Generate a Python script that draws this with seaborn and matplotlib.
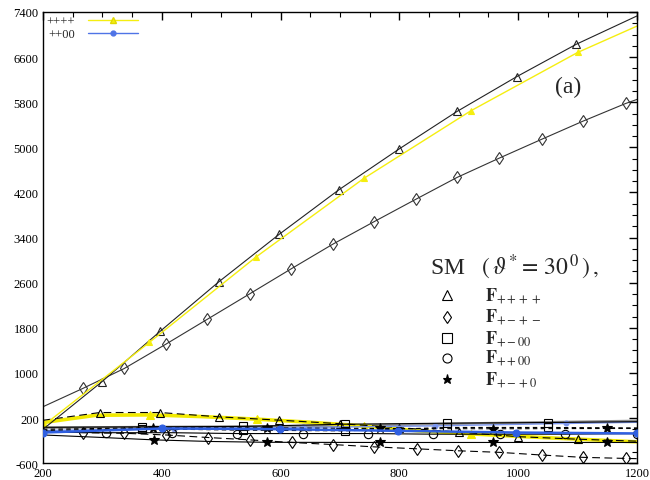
import matplotlib
matplotlib.use("Agg")
import matplotlib.pyplot as plt
import seaborn as sns

sns.set_theme(style="white")
plt.rcParams["font.family"] = ["Liberation Serif", "DejaVu Serif"]
plt.rcParams["mathtext.fontset"] = "stix"
plt.rcParams["axes.unicode_minus"] = False

# ---- data ----
# F++++ SM : black solid, open triangles
tri_x = [200, 299, 397, 496, 598, 698, 799, 897, 998, 1098, 1200]
tri_y = [0, 841, 1735, 2615, 3460, 4246, 4967, 5636, 6256, 6829, 7330]
# ++++ (yellow thin)
ytri_x = [200, 379, 559, 740, 920, 1100, 1200]
ytri_y = [60, 1540, 3058, 4448, 5646, 6682, 7150]
# F+-+- SM : black solid, open diamonds
dia_x = [200, 267, 337, 407, 477, 548, 617, 688, 758, 828, 897, 968, 1040, 1109, 1181, 1200]
dia_y = [400, 724, 1079, 1510, 1953, 2402, 2840, 3283, 3685, 4081, 4466, 4808, 5145, 5464, 5778, 5850]

# low curves
ylo_x = [200, 290, 380, 470, 560, 650, 740, 830, 920, 1010, 1100, 1200]
ylo_y = [120, 250, 256, 225, 180, 125, 60, -25, -80, -130, -174, -222]
dtri_x = [200, 296, 397, 497, 598, 700, 800, 900, 1000, 1100, 1200]
dtri_y = [160, 298, 298, 221, 162, 100, 30, -50, -130, -175, -210]
gry_x = [200, 450, 700, 950, 1200]
gry_y = [30, 45, 60, 110, 150]
lbl_x = [200, 420, 638, 860, 1081, 1200]
lbl_y = [-20, 10, 33, 61, 104, 125]
sqa_x = [200, 366, 537, 708, 880, 1050, 1200]
sqa_y = [35, 44, 51, 91, 109, 121, 135]
sqb_x = [200, 366, 537, 708, 880, 1050, 1200]
sqb_y = [-20, 10, -15, -27, 33, 33, 25]
stu_x = [200, 386, 578, 767, 958, 1149, 1200]
stu_y = [0, 30, 25, 15, 10, 15, 15]
blu_x = [200, 400, 599, 798, 997, 1200]
blu_y = [-57, 15, 3, -27, -57, -73]
cir_x = [200, 307, 417, 526, 638, 748, 857, 969, 1079, 1200]
cir_y = [-50, -60, -60, -75, -75, -75, -86, -86, -86, -75]
stl_x = [200, 290, 387, 480, 578, 767, 958, 1149, 1200]
stl_y = [-100, -140, -187, -215, -230, -233, -233, -233, -233]
dd_x = [200, 267, 337, 407, 478, 548, 619, 688, 758, 829, 898, 968, 1040, 1109, 1181, 1200]
dd_y = [-30, -60, -70, -100, -145, -187, -233, -270, -311, -345, -380, -408, -456, -497, -516, -520]

legend_markers = ['^', 'd', 's', 'o', '*']
legend_labels = [r'$\mathbf{F}_{++++}$', r'$\mathbf{F}_{+-+-}$', r'$\mathbf{F}_{+-00}$',
                 r'$\mathbf{F}_{++00}$', r'$\mathbf{F}_{+-+0}$']

fig, ax = plt.subplots(figsize=(6.5, 4.81), dpi=100)
fig.subplots_adjust(left=0.066, right=0.98, bottom=0.035, top=0.973)

DASH = (0, (7, 4))
SDASH = (0, (4, 3))


def draw(x, y, color, marker=None, ls='-', lw=0.8, ms=6, fill=False,
         every=None, z=2):
    kw = dict(marker=marker, markersize=ms, markevery=every,
              markerfacecolor=color if fill else 'none',
              markeredgecolor=color, markeredgewidth=0.8)
    sns.lineplot(x=x, y=y, color=color, lw=lw, ls=ls, legend=False,
                 ax=ax, zorder=z, **kw)


draw(gry_x, gry_y, '#8f8f8f', lw=1.8)
draw(ylo_x, ylo_y, '#f2ea00', marker='^', lw=2.6, ms=6, fill=True,
     every=[0, 2, 4, 6, 8, 10])
draw(dtri_x, dtri_y, 'black', marker='^', ls=DASH, every=slice(1, -1))
draw(lbl_x, lbl_y, '#7b96ee', marker='o', lw=1.0, ms=3.5, fill=True,
     every=slice(1, -1))
draw(sqa_x, sqa_y, 'black', marker='s', every=slice(1, -1))
draw(sqb_x, sqb_y, 'black', marker='s', ls=SDASH, every=slice(1, -1))
draw(stu_x, stu_y, 'black', marker='*', ls=SDASH, ms=7, fill=True,
     every=slice(1, -1))
draw(blu_x, blu_y, '#2f5fe0', marker='o', lw=1.8, ms=5, fill=True, z=3)
draw(cir_x, cir_y, 'black', marker='o', every=slice(1, None))
draw(stl_x, stl_y, 'black', marker='*', ms=7, fill=True, every=[2, 4, 5, 6, 7])
draw(dd_x, dd_y, 'black', marker='d', ls=DASH, every=slice(1, -1))

draw(dia_x, dia_y, '#333333', marker='d', every=slice(1, -1))
draw(tri_x, tri_y, '#222222', marker='^', every=slice(1, -1))
draw(ytri_x, ytri_y, '#f5ee10', marker='^', lw=1.0, ms=5, fill=True,
     every=slice(1, -1))

ax.set_xlim(200, 1200)
ax.set_ylim(-600, 7400)
ax.set_xticks(range(200, 1201, 200))
ax.set_yticks(range(-600, 7401, 800))
ax.xaxis.set_minor_locator(plt.MultipleLocator(50))
ax.yaxis.set_minor_locator(plt.MultipleLocator(200))
ax.tick_params(which='both', direction='in', top=True, right=True,
               labelsize=9, colors='black', pad=3)
ax.tick_params(which='major', length=6, width=1)
ax.tick_params(which='minor', length=3.5, width=0.8)
for sp in ax.spines.values():
    sp.set_color('black')
    sp.set_linewidth(1.0)
ax.set_xlabel('')
ax.set_ylabel('')
ax.grid(False)

# small key in the top-left corner (text first, line sample after)
h1, = ax.plot([], [], color='#f5ee10', lw=1.0, marker='^', ms=5,
              markerfacecolor='#f5ee10', markeredgecolor='#e0d800')
h2, = ax.plot([], [], color='#4f74e6', lw=1.0, marker='o', ms=3.5,
              markerfacecolor='#4f74e6', markeredgecolor='#4f74e6')
ax.legend([h1, h2], ['++++', '++00'], loc='upper left', frameon=False,
          markerfirst=False, fontsize=9, handlelength=4.0, labelspacing=0.05,
          borderaxespad=0.1, borderpad=0.2, handletextpad=1.0)

# annotations
ax.text(0.884, 0.834, '(a)', transform=ax.transAxes, fontsize=17,
        ha='center', va='center')
ax.text(0.652, 0.435, r'SM   $(\,\vartheta^{*}\,\!=\,30^{\,0}\,)\,,$',
        transform=ax.transAxes, fontsize=17, ha='left', va='center')
rows = [0.372, 0.325, 0.278, 0.234, 0.186]
for m, lab, yy in zip(legend_markers, legend_labels, rows):
    ax.plot([0.68], [yy], marker=m, transform=ax.transAxes, ls='none',
            markersize=6.5,
            markerfacecolor='black' if m == '*' else 'none',
            markeredgecolor='black', markeredgewidth=0.8)
    ax.text(0.744, yy, lab, transform=ax.transAxes, fontsize=13,
            ha='left', va='center')

fig.savefig('out.png', dpi=100)
